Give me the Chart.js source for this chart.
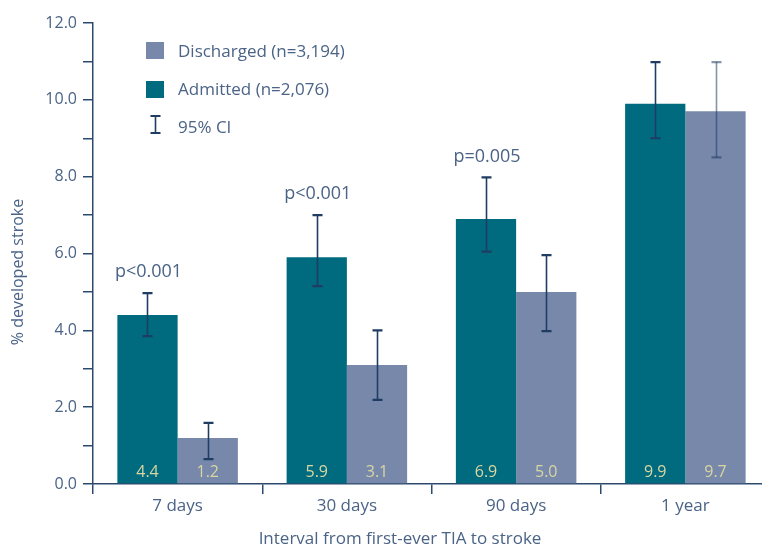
<!DOCTYPE html>
<html>
<head>
<meta charset="utf-8">
<script src="https://cdn.jsdelivr.net/npm/chart.js@4.4.1/dist/chart.umd.min.js"></script>
<style>
html,body{margin:0;padding:0;background:#fff;overflow:hidden;}
#wrap{position:absolute;left:0;top:0;width:770px;height:548px;}
</style>
</head>
<body>
<div id="wrap"><canvas id="c" width="770" height="548"></canvas></div>
<script>
const categories = ['7 days', '30 days', '90 days', '1 year'];
const admitted = [4.4, 5.9, 6.9, 9.9];
const discharged = [1.2, 3.1, 5.0, 9.7];
const admittedLow = [3.85, 5.15, 6.05, 9.0];
const admittedHigh = [4.97, 7.0, 7.98, 10.98];
const dischargedLow = [0.65, 2.19, 3.98, 8.5];
const dischargedHigh = [1.59, 4.0, 5.96, 10.98];
const pValues = ['p<0.001', 'p<0.001', 'p=0.005', ''];
const yTicks = [0, 2, 4, 6, 8, 10, 12];
const legendLabels = ['Discharged (n=3,194)', 'Admitted (n=2,076)', '95% CI'];
const xTitle = 'Interval from first-ever TIA to stroke';
const yTitle = '% developed stroke';

const FONT = '"Open Sans", "Noto Sans", sans-serif';
const TEXT = '#4a6386';
const AXIS = '#2c4a6e';
const C_ADM = '#006a7e';
const C_DIS = '#7788ab';
const ERR = '#1f3c63';

const overlay = {
  id: 'overlay',
  afterDatasetsDraw(chart) {
    const ctx = chart.ctx;
    const y = chart.scales.y;
    const sets = [
      {low: admittedLow, high: admittedHigh, vals: admitted, meta: chart.getDatasetMeta(0), col: [ERR, ERR, ERR, ERR]},
      {low: dischargedLow, high: dischargedHigh, vals: discharged, meta: chart.getDatasetMeta(1), col: [ERR, ERR, ERR, 'rgba(31,60,99,0.55)']}
    ];
    ctx.save();
    sets.forEach(s => {
      s.meta.data.forEach((bar, i) => {
        const x = Math.round(bar.x) + 0.5;
        const yl = y.getPixelForValue(s.low[i]);
        const yh = y.getPixelForValue(s.high[i]);
        ctx.strokeStyle = s.col[i];
        ctx.lineWidth = 1.6;
        ctx.beginPath();
        ctx.moveTo(x, yl); ctx.lineTo(x, yh);
        ctx.stroke();
        ctx.lineWidth = 2.2;
        ctx.beginPath();
        ctx.moveTo(x - 5, yl); ctx.lineTo(x + 5, yl);
        ctx.moveTo(x - 5, yh); ctx.lineTo(x + 5, yh);
        ctx.stroke();
      });
    });
    ctx.font = '16px ' + FONT;
    ctx.fillStyle = '#d8d6a2';
    ctx.textAlign = 'center';
    ctx.textBaseline = 'middle';
    sets.forEach(s => {
      s.meta.data.forEach((bar, i) => {
        ctx.fillText(s.vals[i].toFixed(1), bar.x, y.getPixelForValue(0) - 12);
      });
    });
    ctx.fillStyle = TEXT;
    ctx.font = '18px ' + FONT;
    ctx.textBaseline = 'middle';
    chart.getDatasetMeta(0).data.forEach((bar, i) => {
      if (!pValues[i]) return;
      ctx.fillText(pValues[i], bar.x + 1, y.getPixelForValue(admittedHigh[i]) - 21);
    });
    // legend
    ctx.textAlign = 'left';
    ctx.textBaseline = 'middle';
    ctx.font = '17px ' + FONT;
    ctx.fillStyle = C_DIS;
    ctx.fillRect(146, 42, 18, 17);
    ctx.fillStyle = C_ADM;
    ctx.fillRect(146, 81, 18, 17);
    ctx.strokeStyle = ERR;
    ctx.lineWidth = 1.6;
    ctx.beginPath();
    ctx.moveTo(155.5, 116); ctx.lineTo(155.5, 133); ctx.stroke();
    ctx.lineWidth = 2.2;
    ctx.beginPath();
    ctx.moveTo(150.5, 116); ctx.lineTo(160.5, 116);
    ctx.moveTo(150.5, 133); ctx.lineTo(160.5, 133);
    ctx.stroke();
    ctx.fillStyle = TEXT;
    ctx.fillText(legendLabels[0], 178, 52);
    ctx.fillText(legendLabels[1], 178, 90);
    ctx.fillText(legendLabels[2], 178, 128);
    // axis titles
    ctx.textAlign = 'center';
    ctx.font = '17px ' + FONT;
    ctx.fillText(xTitle, 400, 539);
    ctx.translate(18, 272);
    ctx.rotate(-Math.PI / 2);
    ctx.font = '16px ' + FONT;
    ctx.fillText(yTitle, 0, 0);
    ctx.restore();
  }
};

new Chart(document.getElementById('c'), {
  type: 'bar',
  data: {
    labels: categories,
    datasets: [
      {label: 'Admitted (n=2,076)', data: admitted, backgroundColor: C_ADM, categoryPercentage: 0.712, barPercentage: 1.0},
      {label: 'Discharged (n=3,194)', data: discharged, backgroundColor: C_DIS, categoryPercentage: 0.712, barPercentage: 1.0}
    ]
  },
  options: {
    responsive: false,
    animation: false,
    devicePixelRatio: 1,
    layout: {padding: {top: 23, right: 0, left: 0, bottom: 0}},
    plugins: {legend: {display: false}, tooltip: {enabled: false}},
    scales: {
      x: {
        grid: {display: true, drawOnChartArea: false, offset: true, tickLength: 10, color: AXIS, lineWidth: 1.5},
        border: {color: AXIS, width: 1.5},
        ticks: {color: TEXT, font: {family: FONT, size: 17}, padding: 2},
        afterFit(s) { s.height = 64; }
      },
      y: {
        min: 0, max: 12,
        afterBuildTicks(s) {
          const t = [];
          for (let v = 0; v <= 12; v++) t.push({value: v});
          s.ticks = t;
        },
        grid: {display: true, drawOnChartArea: false, tickLength: 10, color: AXIS, lineWidth: 1.5},
        border: {color: AXIS, width: 1.5},
        ticks: {
          color: TEXT, font: {family: FONT, size: 16}, padding: 6,
          callback: (v) => yTicks.includes(v) ? v.toFixed(1) : ''
        },
        afterFit(s) { s.width = 93; }
      }
    }
  },
  plugins: [overlay]
});
</script>
</body>
</html>
